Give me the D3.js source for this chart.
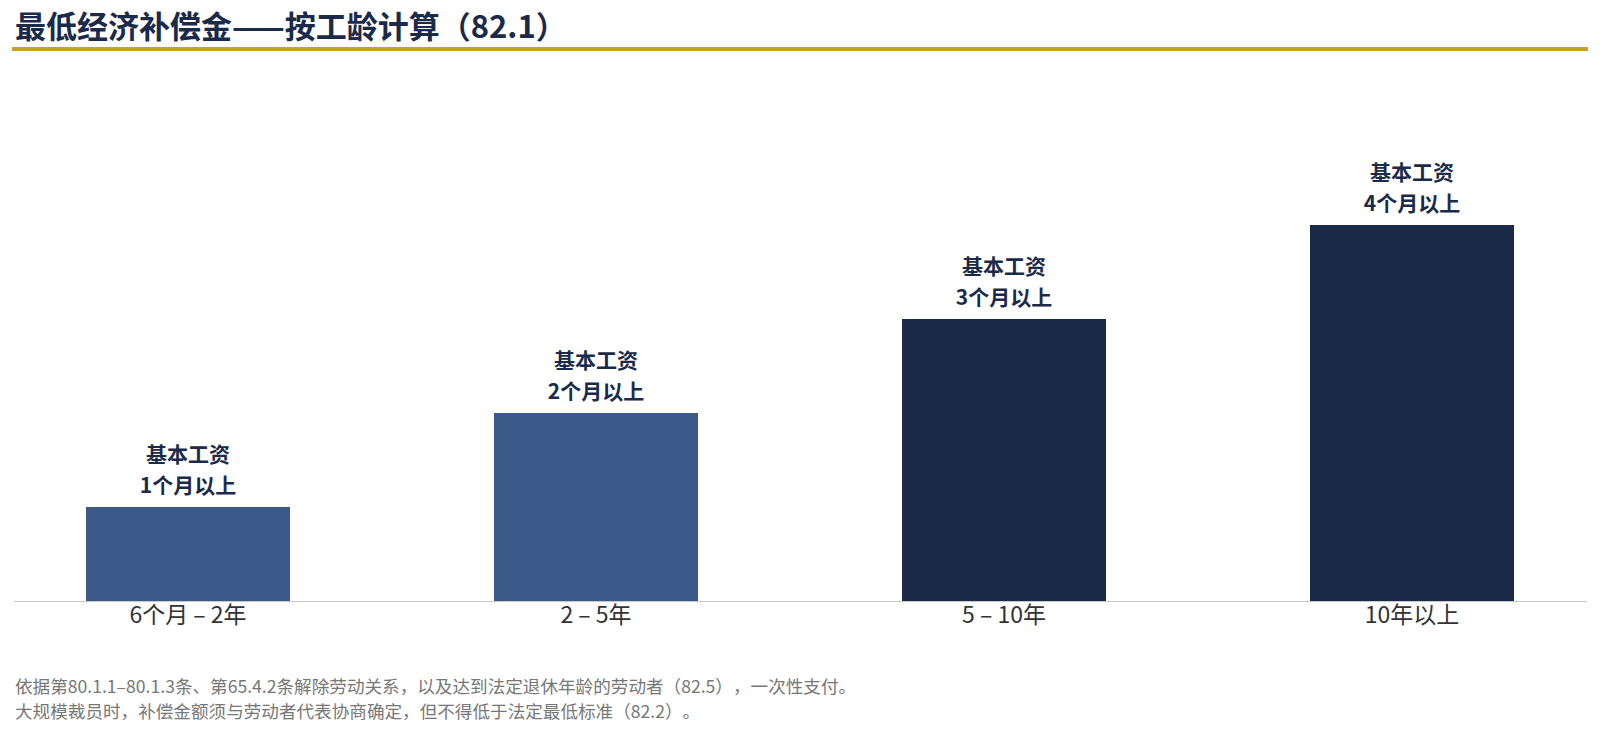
<!DOCTYPE html>
<html><head><meta charset="utf-8">
<script src="https://cdn.jsdelivr.net/npm/d3@7"></script>
<style>
html,body{margin:0;padding:0;background:#fff;}
svg{display:block;font-family:"Noto Sans CJK SC","Noto Sans",sans-serif;}
svg text{text-spacing-trim:space-all;}
</style></head>
<body>
<script>
const title = "最低经济补偿金——按工龄计算（82.1）";
const categories = ["6个月 – 2年", "2 – 5年", "5 – 10年", "10年以上"];
const months = [1, 2, 3, 4];
const labelLine1 = ["基本工资", "基本工资", "基本工资", "基本工资"];
const labelLine2 = ["1个月以上", "2个月以上", "3个月以上", "4个月以上"];
const barColors = ["#3b5a8a", "#3b5a8a", "#1c2a4a", "#1c2a4a"];
const notes = [
  "依据第80.1.1–80.1.3条、第65.4.2条解除劳动关系，以及达到法定退休年龄的劳动者（82.5），一次性支付。",
  "大规模裁员时，补偿金额须与劳动者代表协商确定，但不得低于法定最低标准（82.2）。"
];

const W = 1600, H = 735;
const svg = d3.select("body").append("svg").attr("width", W).attr("height", H);

svg.append("text").attr("x", 15).attr("y", 38)
  .attr("font-size", 31).attr("font-weight", 700).attr("fill", "#1c2a4a")
  .text(title);
svg.append("rect").attr("x", 12).attr("y", 47).attr("width", 1576).attr("height", 4).attr("fill", "#c9a12b");

const x = d3.scaleBand().domain(categories).range([86, 1514]).paddingInner(0.5).paddingOuter(0);
const y = d3.scaleLinear().domain([0, 4]).range([601, 225]);

svg.selectAll("rect.bar").data(categories).enter().append("rect")
  .attr("class", "bar")
  .attr("x", d => x(d)).attr("width", x.bandwidth())
  .attr("y", (d, i) => y(months[i])).attr("height", (d, i) => y(0) - y(months[i]))
  .attr("fill", (d, i) => barColors[i]);

const axis = svg.append("g").attr("transform", `translate(0,${y(0)})`)
  .call(d3.axisBottom(x).tickSize(0).tickPadding(6));
axis.select(".domain").remove();
svg.append("line").attr("x1", 14).attr("x2", 1587).attr("y1", y(0) + 0.5).attr("y2", y(0) + 0.5)
  .attr("stroke", "#c8c8c8").attr("stroke-width", 1.2);
axis.selectAll("text").attr("font-size", 23).attr("fill", "#333")
  .attr("font-family", "'Noto Sans CJK SC','Noto Sans',sans-serif");

const lbl = svg.selectAll("g.lbl").data(categories).enter().append("g").attr("class", "lbl");
lbl.append("text").attr("x", d => x(d) + x.bandwidth() / 2)
  .attr("y", (d, i) => y(months[i]) - 45)
  .attr("text-anchor", "middle").attr("font-size", 21).attr("font-weight", 700).attr("fill", "#1c2a4a")
  .text((d, i) => labelLine1[i]);
lbl.append("text").attr("x", d => x(d) + x.bandwidth() / 2)
  .attr("y", (d, i) => y(months[i]) - 14)
  .attr("text-anchor", "middle").attr("font-size", 21).attr("font-weight", 700).attr("fill", "#1c2a4a")
  .text((d, i) => labelLine2[i]);

svg.selectAll("text.note").data(notes).enter().append("text").attr("class", "note")
  .attr("x", 15).attr("y", (d, i) => 693 + i * 25)
  .attr("font-size", 17.6).attr("fill", "#777")
  .text(d => d);
</script>
</body></html>
